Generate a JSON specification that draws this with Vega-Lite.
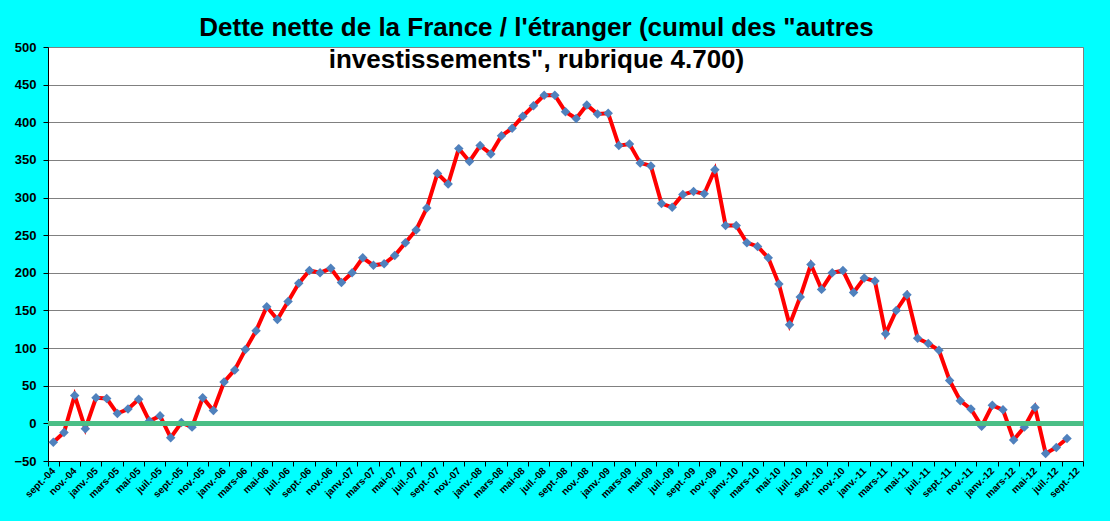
{
  "$schema": "https://vega.github.io/schema/vega-lite/v6.json",
  "autosize": "none",
  "padding": {"left": 48, "top": 47, "right": 27, "bottom": 60},
  "width": 1035,
  "height": 414,
  "background": "#00FFFF",
  "title": {
    "text": ["Dette nette de la France / l'étranger (cumul des \"autres", "investissements\", rubrique 4.700)"],
    "font": "Liberation Sans",
    "fontSize": 26,
    "fontWeight": "bold",
    "color": "black",
    "lineHeight": 32,
    "anchor": "middle",
    "baseline": "top",
    "dx": -29,
    "offset": -32
  },
  "data": {
    "values": [
      {"mois": "sept.-04", "valeur": -25},
      {"mois": "oct.-04", "valeur": -12},
      {"mois": "nov.-04", "valeur": 37},
      {"mois": "déc.-04", "valeur": -7},
      {"mois": "janv.-05", "valeur": 34},
      {"mois": "févr.-05", "valeur": 33},
      {"mois": "mars-05", "valeur": 13},
      {"mois": "avr.-05", "valeur": 19},
      {"mois": "mai-05", "valeur": 32},
      {"mois": "juin-05", "valeur": 3},
      {"mois": "juil.-05", "valeur": 10},
      {"mois": "août-05", "valeur": -19},
      {"mois": "sept.-05", "valeur": 1},
      {"mois": "oct.-05", "valeur": -5},
      {"mois": "nov.-05", "valeur": 34},
      {"mois": "déc.-05", "valeur": 17},
      {"mois": "janv.-06", "valeur": 55},
      {"mois": "févr.-06", "valeur": 71},
      {"mois": "mars-06", "valeur": 98},
      {"mois": "avr.-06", "valeur": 123},
      {"mois": "mai-06", "valeur": 155},
      {"mois": "juin-06", "valeur": 138},
      {"mois": "juil.-06", "valeur": 162},
      {"mois": "août-06", "valeur": 186},
      {"mois": "sept.-06", "valeur": 203},
      {"mois": "oct.-06", "valeur": 200},
      {"mois": "nov.-06", "valeur": 206},
      {"mois": "déc.-06", "valeur": 187},
      {"mois": "janv.-07", "valeur": 200},
      {"mois": "févr.-07", "valeur": 220},
      {"mois": "mars-07", "valeur": 210},
      {"mois": "avr.-07", "valeur": 212},
      {"mois": "mai-07", "valeur": 223},
      {"mois": "juin-07", "valeur": 240},
      {"mois": "juil.-07", "valeur": 257},
      {"mois": "août-07", "valeur": 286},
      {"mois": "sept.-07", "valeur": 332},
      {"mois": "oct.-07", "valeur": 318},
      {"mois": "nov.-07", "valeur": 365},
      {"mois": "déc.-07", "valeur": 348},
      {"mois": "janv.-08", "valeur": 369},
      {"mois": "févr.-08", "valeur": 358},
      {"mois": "mars-08", "valeur": 382},
      {"mois": "avr.-08", "valeur": 392},
      {"mois": "mai-08", "valeur": 408},
      {"mois": "juin-08", "valeur": 422},
      {"mois": "juil.-08", "valeur": 436},
      {"mois": "août-08", "valeur": 436},
      {"mois": "sept.-08", "valeur": 414},
      {"mois": "oct.-08", "valeur": 405},
      {"mois": "nov.-08", "valeur": 423},
      {"mois": "déc.-08", "valeur": 411},
      {"mois": "janv.-09", "valeur": 412},
      {"mois": "févr.-09", "valeur": 369},
      {"mois": "mars-09", "valeur": 371},
      {"mois": "avr.-09", "valeur": 346},
      {"mois": "mai-09", "valeur": 342},
      {"mois": "juin-09", "valeur": 292},
      {"mois": "juil.-09", "valeur": 287},
      {"mois": "août-09", "valeur": 304},
      {"mois": "sept.-09", "valeur": 308},
      {"mois": "oct.-09", "valeur": 305},
      {"mois": "nov.-09", "valeur": 337},
      {"mois": "déc.-09", "valeur": 263},
      {"mois": "janv.-10", "valeur": 263},
      {"mois": "févr.-10", "valeur": 240},
      {"mois": "mars-10", "valeur": 235},
      {"mois": "avr.-10", "valeur": 220},
      {"mois": "mai-10", "valeur": 185},
      {"mois": "juin-10", "valeur": 131},
      {"mois": "juil.-10", "valeur": 168},
      {"mois": "août-10", "valeur": 211},
      {"mois": "sept.-10", "valeur": 178},
      {"mois": "oct.-10", "valeur": 200},
      {"mois": "nov.-10", "valeur": 203},
      {"mois": "déc.-10", "valeur": 174},
      {"mois": "janv.-11", "valeur": 193},
      {"mois": "févr.-11", "valeur": 189},
      {"mois": "mars-11", "valeur": 119},
      {"mois": "avr.-11", "valeur": 150},
      {"mois": "mai-11", "valeur": 171},
      {"mois": "juin-11", "valeur": 113},
      {"mois": "juil.-11", "valeur": 106},
      {"mois": "août-11", "valeur": 97},
      {"mois": "sept.-11", "valeur": 57},
      {"mois": "oct.-11", "valeur": 30},
      {"mois": "nov.-11", "valeur": 19},
      {"mois": "déc.-11", "valeur": -4},
      {"mois": "janv.-12", "valeur": 24},
      {"mois": "févr.-12", "valeur": 18},
      {"mois": "mars-12", "valeur": -22},
      {"mois": "avr.-12", "valeur": -5},
      {"mois": "mai-12", "valeur": 21},
      {"mois": "juin-12", "valeur": -40},
      {"mois": "juil.-12", "valeur": -32},
      {"mois": "août-12", "valeur": -20}
    ]
  },
  "layer": [
    {
      "mark": {"type": "line", "color": "#FF0000", "strokeWidth": 4},
      "encoding": {
        "x": {
          "field": "mois",
          "type": "ordinal",
          "sort": null,
          "scale": {
            "paddingInner": 0,
            "paddingOuter": 0,
            "domain": ["sept.-04", "oct.-04", "nov.-04", "déc.-04", "janv.-05", "févr.-05", "mars-05", "avr.-05", "mai-05", "juin-05", "juil.-05", "août-05", "sept.-05", "oct.-05", "nov.-05", "déc.-05", "janv.-06", "févr.-06", "mars-06", "avr.-06", "mai-06", "juin-06", "juil.-06", "août-06", "sept.-06", "oct.-06", "nov.-06", "déc.-06", "janv.-07", "févr.-07", "mars-07", "avr.-07", "mai-07", "juin-07", "juil.-07", "août-07", "sept.-07", "oct.-07", "nov.-07", "déc.-07", "janv.-08", "févr.-08", "mars-08", "avr.-08", "mai-08", "juin-08", "juil.-08", "août-08", "sept.-08", "oct.-08", "nov.-08", "déc.-08", "janv.-09", "févr.-09", "mars-09", "avr.-09", "mai-09", "juin-09", "juil.-09", "août-09", "sept.-09", "oct.-09", "nov.-09", "déc.-09", "janv.-10", "févr.-10", "mars-10", "avr.-10", "mai-10", "juin-10", "juil.-10", "août-10", "sept.-10", "oct.-10", "nov.-10", "déc.-10", "janv.-11", "févr.-11", "mars-11", "avr.-11", "mai-11", "juin-11", "juil.-11", "août-11", "sept.-11", "oct.-11", "nov.-11", "déc.-11", "janv.-12", "févr.-12", "mars-12", "avr.-12", "mai-12", "juin-12", "juil.-12", "août-12", "sept.-12"]
          },
          "axis": {
            "title": null,
            "values": ["sept.-04", "nov.-04", "janv.-05", "mars-05", "mai-05", "juil.-05", "sept.-05", "nov.-05", "janv.-06", "mars-06", "mai-06", "juil.-06", "sept.-06", "nov.-06", "janv.-07", "mars-07", "mai-07", "juil.-07", "sept.-07", "nov.-07", "janv.-08", "mars-08", "mai-08", "juil.-08", "sept.-08", "nov.-08", "janv.-09", "mars-09", "mai-09", "juil.-09", "sept.-09", "nov.-09", "janv.-10", "mars-10", "mai-10", "juil.-10", "sept.-10", "nov.-10", "janv.-11", "mars-11", "mai-11", "juil.-11", "sept.-11", "nov.-11", "janv.-12", "mars-12", "mai-12", "juil.-12", "sept.-12"],
            "tickCount": 100,
            "tickBand": "extent",
            "labelAngle": -45,
            "labelAlign": "right",
            "labelBaseline": "middle",
            "labelFont": "Liberation Sans",
            "labelFontSize": 10,
            "labelFontWeight": "bold",
            "labelColor": "black",
            "labelPadding": 3,
            "tickSize": 5,
            "tickColor": "black",
            "domainColor": "black",
            "grid": false,
            "labelOverlap": false
          }
        },
        "y": {
          "field": "valeur",
          "type": "quantitative",
          "scale": {"domain": [-50, 500], "nice": false, "zero": false},
          "axis": {
            "title": null,
            "values": [-50, 0, 50, 100, 150, 200, 250, 300, 350, 400, 450, 500],
            "tickCount": 20,
            "labelOverlap": false,
            "labelFont": "Liberation Sans",
            "labelFontSize": 13,
            "labelFontWeight": "bold",
            "labelColor": "black",
            "labelPadding": 7,
            "tickSize": 5,
            "tickColor": "black",
            "domainColor": "black",
            "gridColor": "#808080",
            "gridOpacity": 1
          }
        }
      }
    },
    {
      "mark": {"type": "point", "shape": "diamond", "filled": true, "color": "#4F81BD", "size": 90, "opacity": 1},
      "encoding": {
        "x": {"field": "mois", "type": "ordinal", "sort": null},
        "y": {"field": "valeur", "type": "quantitative"}
      }
    },
    {
      "mark": {"type": "rule", "color": "#4CBF85", "strokeWidth": 4, "opacity": 0.65},
      "encoding": {
        "y": {"datum": 0}
      }
    }
  ],
  "config": {
    "view": {"stroke": "#808080", "fill": "white"}
  }
}
